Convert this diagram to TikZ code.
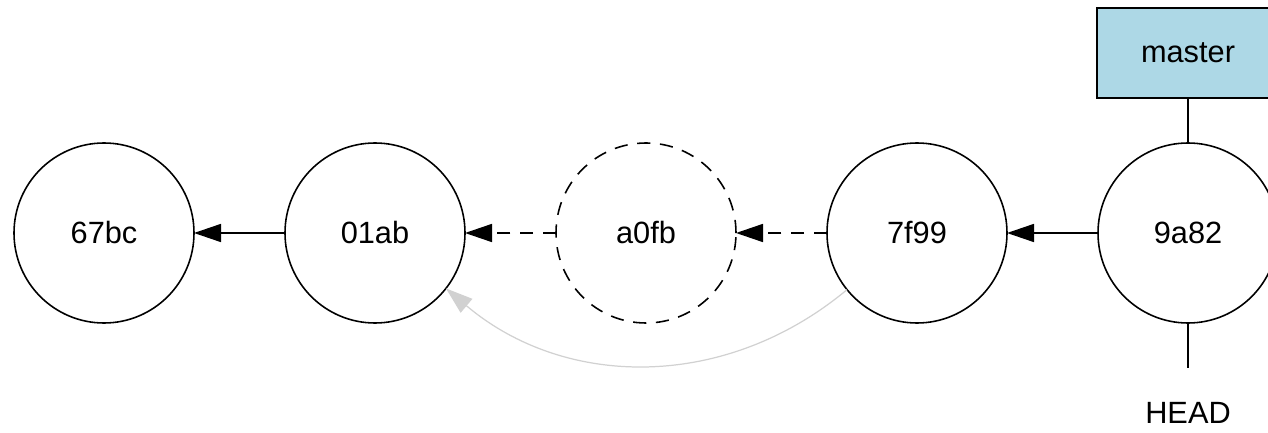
\documentclass[tikz,border=0pt]{standalone}
\usepackage{fontspec}
\setmainfont{Liberation Sans}
\usetikzlibrary{positioning, arrows.meta}
\definecolor{refblue}{HTML}{ADD8E6}
\tikzset{
  cmt/.style={draw, circle, line width=0.9pt, minimum size=3.6cm, inner sep=0pt,
              outer sep=0pt, font=\fontsize{17.5}{21}\selectfont},
  gone/.style={cmt, dash pattern=on 7.5pt off 5.5pt},   % dropped commit
  ref/.style={minimum width=3.64cm, minimum height=1.8cm, inner sep=0pt,
              outer sep=0pt, font=\fontsize{17.5}{21}\selectfont},
  branch/.style={ref, draw, line width=0.9pt, fill=refblue},
  par/.style={-{Triangle[length=5.4mm, width=3.6mm]}, line width=0.9pt},
  lost/.style={par, dash pattern=on 7.5pt off 5.5pt},
  amend/.style={-{Triangle[length=5.4mm, width=3.6mm]}, draw=black!18, line width=0.7pt},
}

\begin{document}
\begin{tikzpicture}[node distance=1.82cm]
  \useasboundingbox (-2.08,-4.0) rectangle (23.28,4.66);
  \node[cmt](a){67bc};
  \node[cmt, right=of a](b){01ab};
  \node[gone, right=of b](c){a0fb};
  \node[cmt, right=of c](d){7f99};
  \node[cmt, right=of d](e){9a82};
  \node[branch, above=0.9cm of e](m){master};
  \node[ref, below=0.9cm of e](h){HEAD};
  \draw[par](b)--(a); \draw[lost](c)--(b); \draw[lost](d)--(c); \draw[par](e)--(d);
  \draw[line width=0.9pt](m)--(e); \draw[line width=0.9pt](e)--(h);
  \draw[amend](d.219) to[bend left=40] (b.322);
\end{tikzpicture}
\end{document}
